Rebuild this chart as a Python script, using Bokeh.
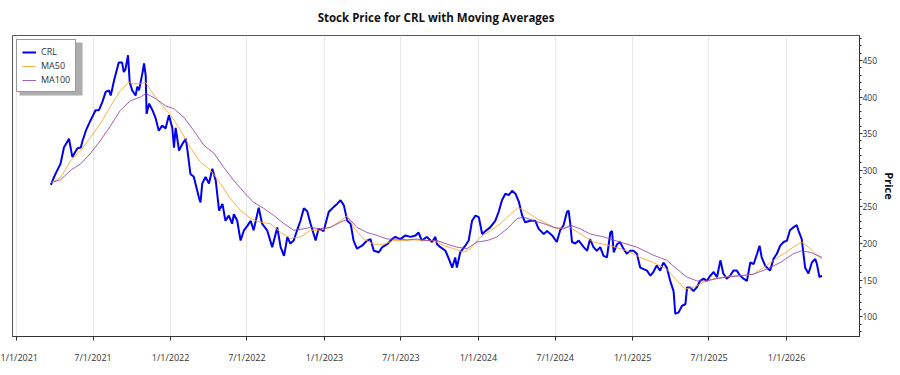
import pandas as pd
from bokeh.plotting import figure
from bokeh.models import (Range1d, FixedTicker, SingleIntervalTicker, Legend,
                          LegendItem, BoxAnnotation)
from bokeh.embed import file_html
from bokeh.resources import INLINE

BASE_DATE = "2021-01-01"

# CRL closing price, sampled (days after BASE_DATE, price)
price_days = [
    81, 85, 92, 104, 112, 124, 132, 144, 152, 156, 164, 175, 187, 195, 203, 211, 219, 223, 231, 242,
    250, 254, 258, 264, 268, 274, 282, 286, 290, 298, 302, 306, 308, 314, 322, 329, 337, 345, 353, 361,
    369, 373, 377, 385, 393, 401, 405, 412, 420, 432, 436, 440, 448, 456, 464, 472, 480, 488, 495, 503,
    511, 515, 523, 531, 539, 547, 555, 562, 574, 582, 594, 606, 618, 626, 634, 642, 649, 657, 665, 673,
    681, 689, 697, 709, 716, 728, 740, 752, 760, 768, 776, 784, 792, 799, 807, 819, 831, 839, 847, 859,
    867, 879, 890, 898, 910, 922, 934, 946, 953, 961, 973, 985, 993, 997, 1005, 1017, 1025, 1033, 1040, 1044,
    1052, 1064, 1072, 1080, 1088, 1096, 1104, 1112, 1123, 1135, 1143, 1151, 1159, 1167, 1175, 1183, 1191, 1199, 1206, 1218,
    1230, 1238, 1250, 1258, 1270, 1281,
    1289, 1297, 1305, 1309, 1313, 1317, 1325, 1333, 1345, 1353, 1360, 1368, 1376, 1384, 1392, 1400, 1408, 1412, 1416, 1424,
    1431, 1439, 1447, 1455, 1463, 1471, 1479, 1487, 1495, 1503, 1510, 1518, 1526, 1534, 1542, 1550, 1558, 1562, 1570, 1578,
    1586, 1590, 1597, 1605, 1613, 1621, 1629, 1637, 1645, 1653, 1661, 1669, 1676, 1684, 1692, 1700, 1708, 1716, 1724, 1732,
    1740, 1748, 1756, 1762, 1767, 1775, 1783, 1787, 1795, 1803, 1811, 1819, 1827, 1834, 1842, 1850, 1854, 1862, 1870, 1878,
    1886, 1894, 1898, 1904, 1910,
]
price_vals = [
    280, 286, 295, 309, 331, 343, 318, 330, 331, 340, 354, 368, 382, 382, 393, 407, 409, 402, 423, 447,
    447, 434, 438, 457, 420, 409, 402, 414, 409, 432, 446, 429, 377, 391, 382, 372, 354, 361, 357, 375,
    358, 331, 358, 327, 336, 343, 327, 295, 291, 263, 256, 282, 291, 282, 302, 286, 245, 254, 231, 238,
    227, 240, 231, 204, 218, 224, 231, 218, 249, 227, 218, 195, 222, 195, 183, 209, 200, 204, 218, 231,
    248, 244, 227, 204, 220, 217, 243, 250, 254, 259, 252, 231, 227, 204, 193, 197, 204, 206, 190, 188,
    195, 199, 206, 209, 206, 211, 209, 211, 215, 204, 209, 202, 209, 199, 195, 190, 179, 167, 181, 167,
    188, 197, 204, 231, 238, 236, 213, 217, 222, 231, 243, 259, 268, 266, 272, 268, 257, 238, 229, 231,
    231, 220, 213, 217, 211, 202,
    218, 225, 243, 245, 227, 202, 200, 204, 195, 190, 206, 195, 190, 195, 183, 181, 215, 217, 188, 199,
    202, 193, 186, 190, 190, 186, 167, 165, 163, 156, 161, 170, 163, 174, 167, 149, 135, 104, 106, 115,
    117, 140, 140, 135, 140, 149, 152, 149, 156, 161, 154, 177, 159, 152, 156, 163, 163, 156, 152, 149,
    174, 172, 186, 197, 181, 170, 165, 163, 179, 186, 197, 202, 204, 218, 222, 225, 218, 206, 167, 159,
    174, 179, 172, 154, 156,
]

# 50-day moving average (days after BASE_DATE, value)
ma50_days = [
    81, 104, 128, 152, 175, 199, 223, 246, 266, 278, 294, 306, 318, 341, 365, 389, 412, 436, 460, 483,
    507, 531, 555, 578, 602, 626, 649, 673, 697, 720, 744, 768, 784, 799, 823, 847, 871, 894, 918, 942,
    965, 989, 1013, 1036, 1060, 1076, 1100, 1123, 1147, 1171, 1190, 1210, 1234, 1258, 1281, 1305, 1313, 1337, 1368, 1408,
    1447, 1479, 1510, 1542, 1566, 1586, 1605, 1629, 1653, 1676, 1700, 1724, 1747, 1771, 1795, 1819, 1842, 1862, 1878, 1894,
    1910,
]
ma50_vals = [
    283, 290, 313, 327, 345, 364, 388, 409, 420, 418, 418, 420, 409, 391, 375, 354, 331, 311, 300, 282,
    261, 245, 234, 229, 227, 215, 207, 209, 218, 218, 222, 231, 238, 222, 206, 199, 199, 204, 204, 205,
    204, 204, 197, 193, 188, 193, 209, 217, 227, 240, 249, 243, 234, 227, 220, 222, 222, 213, 202, 197,
    190, 181, 174, 165, 149, 138, 140, 147, 152, 154, 156, 156, 158, 167, 177, 186, 195, 202, 195, 186,
    179,
]

# 100-day moving average (days after BASE_DATE, value)
ma100_days = [
    81, 104, 128, 152, 175, 199, 223, 246, 270, 294, 306, 329, 353, 373, 397, 420, 444, 468, 491, 515,
    539, 562, 586, 610, 634, 657, 681, 697, 720, 744, 768, 788, 807, 831, 855, 879, 902, 926, 950, 973,
    997, 1021, 1044, 1068, 1092, 1116, 1139, 1163, 1187, 1203, 1226, 1250, 1274, 1297, 1313, 1337, 1360, 1392, 1431, 1471,
    1510, 1542, 1566, 1590, 1613, 1637, 1661, 1684, 1716, 1747, 1779, 1811, 1842, 1862, 1882, 1910,
]
ma100_vals = [
    283, 287, 300, 309, 323, 341, 361, 382, 395, 400, 405, 398, 388, 384, 372, 354, 334, 323, 304, 286,
    270, 256, 248, 238, 227, 218, 220, 222, 220, 222, 229, 234, 222, 215, 211, 206, 206, 205, 206, 204,
    204, 199, 195, 193, 202, 204, 209, 220, 234, 236, 231, 227, 222, 220, 225, 220, 213, 209, 202, 195,
    184, 177, 165, 154, 149, 149, 152, 154, 156, 158, 165, 174, 186, 190, 188, 181,
]

tick_dates = ["2021-01-01", "2021-07-01", "2022-01-01", "2022-07-01", "2023-01-01", "2023-07-01",
              "2024-01-01", "2024-07-01", "2025-01-01", "2025-07-01", "2026-01-01"]
tick_labels = ["1/1/2021", "7/1/2021", "1/1/2022", "7/1/2022", "1/1/2023", "7/1/2023",
               "1/1/2024", "7/1/2024", "1/1/2025", "7/1/2025", "1/1/2026"]

base = pd.Timestamp(BASE_DATE)
price_x = base + pd.to_timedelta(price_days, unit="D")
ma50_x = base + pd.to_timedelta(ma50_days, unit="D")
ma100_x = base + pd.to_timedelta(ma100_days, unit="D")

FONT = "Open Sans"

p = figure(width=900, height=375, x_axis_type="datetime", y_axis_location="right",
           x_range=Range1d(start=pd.Timestamp("2020-12-22"), end=pd.Timestamp("2026-06-23")),
           y_range=Range1d(73, 484),
           output_backend="svg", toolbar_location=None,
           min_border_left=12, min_border_right=41, min_border_top=35, min_border_bottom=39,
           background_fill_color="white", border_fill_color="white")

p.title.text = "Stock Price for CRL with Moving Averages"
p.title.align = "center"
p.title.vertical_align = "top"
p.title.text_font = FONT
p.title.text_font_size = "11.5px"
p.title.text_font_style = "bold"
p.title.text_color = "#111111"
p.title.standoff = 18

p.outline_line_color = "#555555"
p.outline_line_alpha = 1.0

tick_ms = [pd.Timestamp(d).value / 1e6 for d in tick_dates]
xt = FixedTicker(ticks=tick_ms, minor_ticks=[])
p.xaxis.ticker = xt
p.xaxis.major_label_overrides = {t: l for t, l in zip(tick_ms, tick_labels)}
p.xgrid.ticker = xt
p.xgrid.grid_line_color = "#e6e6e6"
p.ygrid.grid_line_color = None

for ax in (p.xaxis[0], p.yaxis[0]):
    ax.axis_line_color = "#333333"
    ax.major_tick_line_color = "#333333"
    ax.minor_tick_line_color = "#333333"
    ax.major_label_text_font = FONT
    ax.major_label_text_color = "#333333"
    ax.major_tick_in = 0

p.xaxis.major_tick_out = 4
p.xaxis.major_label_text_font_size = "9px"
p.xaxis.major_label_standoff = 10

p.yaxis.ticker = SingleIntervalTicker(interval=50, num_minor_ticks=5)
p.yaxis.major_tick_out = 3
p.yaxis.minor_tick_out = 2
p.yaxis.minor_tick_in = 0
p.yaxis.major_label_text_font_size = "8.5px"
p.yaxis.major_label_standoff = 0
p.yaxis.axis_label = "Price"
p.yaxis.axis_label_text_font = FONT
p.yaxis.axis_label_text_font_size = "11px"
p.yaxis.axis_label_text_font_style = "bold"
p.yaxis.axis_label_text_color = "#111111"
p.yaxis.axis_label_standoff = 2

r_price = p.line(price_x, price_vals, line_color="#0000ee", line_width=2)
r_ma50 = p.line(ma50_x, ma50_vals, line_color="#f5a623", line_width=1, line_alpha=0.85)
r_ma100 = p.line(ma100_x, ma100_vals, line_color="#8e44ad", line_width=1, line_alpha=0.85)

# drop shadow of the legend box (screen units: from frame left / frame bottom)
shadow = BoxAnnotation(left=7, right=70, top=294, bottom=241,
                       left_units="screen", right_units="screen",
                       top_units="screen", bottom_units="screen",
                       fill_color="#777777", fill_alpha=0.6, line_color=None)
p.add_layout(shadow)

legend = Legend(items=[LegendItem(label="CRL", renderers=[r_price]),
                       LegendItem(label="MA50", renderers=[r_ma50]),
                       LegendItem(label="MA100", renderers=[r_ma100])],
                location="top_left")
legend.margin = 4
legend.padding = 5
legend.spacing = 1
legend.glyph_width = 14
legend.glyph_height = 10
legend.label_height = 10
legend.label_standoff = 5
legend.label_text_font = FONT
legend.label_text_font_size = "9px"
legend.label_text_color = "#333333"
legend.border_line_color = "#333333"
legend.border_line_width = 1
legend.background_fill_color = "white"
legend.background_fill_alpha = 1.0
p.add_layout(legend)

open("out.html", "w").write(file_html(p, INLINE))
